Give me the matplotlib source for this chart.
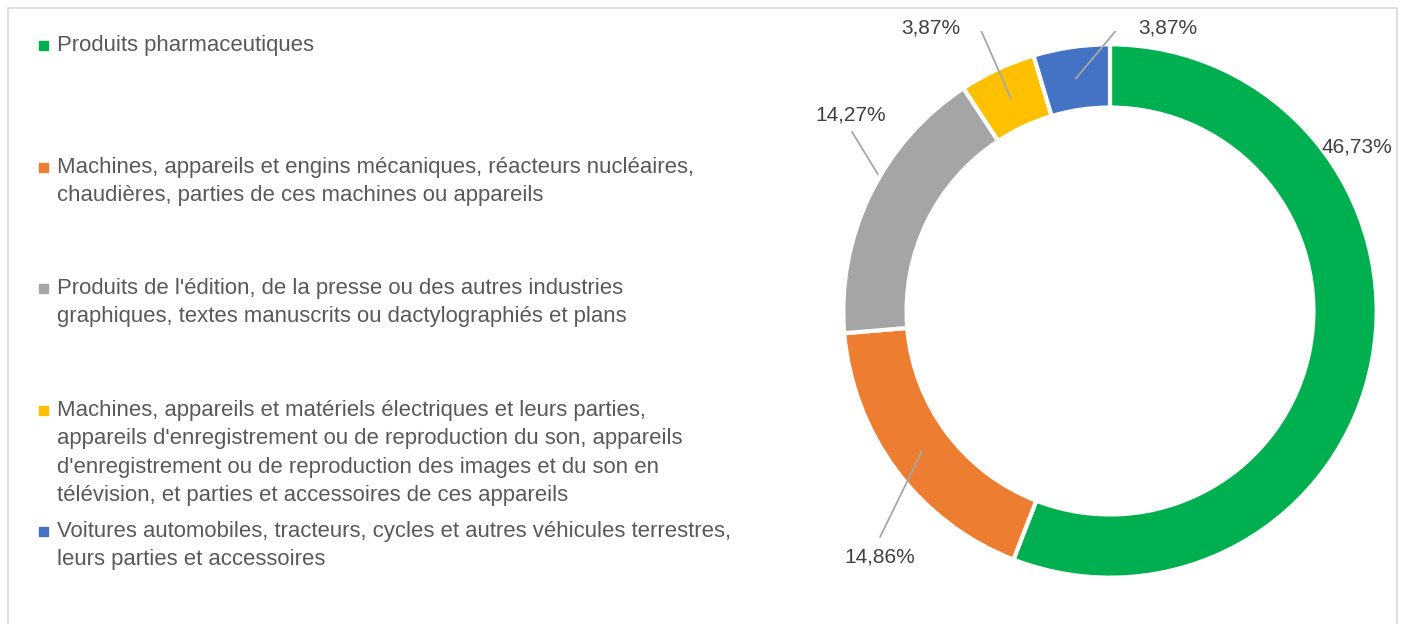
import numpy as np
import matplotlib
matplotlib.use("Agg")
from matplotlib import pyplot as plt
from matplotlib.patches import Rectangle

plt.rcParams['font.family'] = ['Liberation Sans', 'DejaVu Sans']

# data
categories = [
    "Produits pharmaceutiques",
    "Machines, appareils et engins mécaniques, réacteurs nucléaires,\nchaudières, parties de ces machines ou appareils",
    "Produits de l'édition, de la presse ou des autres industries\ngraphiques, textes manuscrits ou dactylographiés et plans",
    "Machines, appareils et matériels électriques et leurs parties,\nappareils d'enregistrement ou de reproduction du son, appareils\nd'enregistrement ou de reproduction des images et du son en\ntélévision, et parties et accessoires de ces appareils",
    "Voitures automobiles, tracteurs, cycles et autres véhicules terrestres,\nleurs parties et accessoires",
]
shares = [46.73, 14.86, 14.27, 3.87, 3.87]
colors = ["#00B050", "#ED7D31", "#A5A5A5", "#FFC000", "#4472C4"]

W, H = 1405, 624
fig = plt.figure(figsize=(W / 100, H / 100), dpi=100)

def fx(px): return px / W
def fy(py): return 1 - py / H

# chart frame
fig.patches.append(Rectangle((fx(8), fy(700)), fx(1397) - fx(8), fy(8) - fy(700),
                             transform=fig.transFigure, fill=False,
                             edgecolor="#D9D9D9", lw=1.2))

# donut
cx, cy, half = 1110, 311, 280
ax = fig.add_axes([fx(cx - half), fy(cy + half), 2 * half / W, 2 * half / H])

ring = 0.237
wedges, _ = ax.pie(shares, colors=colors, startangle=90, counterclock=False,
                   radius=1, wedgeprops=dict(width=ring, edgecolor='white', linewidth=3))
ax.set_xlim(-1.05, 1.05)
ax.set_ylim(-1.05, 1.05)
ax.set_aspect('auto')
ax.axis('off')

# label placement (layout)
label_xy = [(0.926, 0.615), (-0.862, -0.922), (-0.971, 0.735), (-0.671, 1.061), (0.217, 1.061)]
leader_start = [None, [(-0.862, -0.847)], [(-0.967, 0.671)],
                [(-0.529, 1.069), (-0.491, 1.069)], [(0.079, 1.069), (0.037, 1.069)]]
leader_z = [None, 5, 0, 5, 5]

for w, val, xy, ls, z in zip(wedges, shares, label_xy, leader_start, leader_z):
    ax.text(xy[0], xy[1], f"{val:.2f}%".replace('.', ','), ha='center', va='center',
            fontsize=15, color="#404040")
    if ls is None:
        continue
    mid = np.deg2rad((w.theta1 + w.theta2) / 2)
    r = 1 - ring / 2
    pts = ls + [(r * np.cos(mid), r * np.sin(mid))]
    xs, ys = zip(*pts)
    ax.plot(xs, ys, color="#A6A6A6", lw=1.3, zorder=z)

# legend
legend_y = [45, 181.5, 302.5, 453, 545.5]
for cat, col, y in zip(categories, colors, legend_y):
    nlines = cat.count('\n') + 1
    first = y - (nlines - 1) * 28.7 / 2
    fig.patches.append(Rectangle((fx(39), fy(first + 5)), 9 / W, 9 / H,
                                 transform=fig.transFigure, color=col))
    fig.text(fx(57), fy(y), cat, ha='left', va='center', fontsize=15.9,
             color="#595959", linespacing=1.45)

fig.savefig("out.png", dpi=100)
